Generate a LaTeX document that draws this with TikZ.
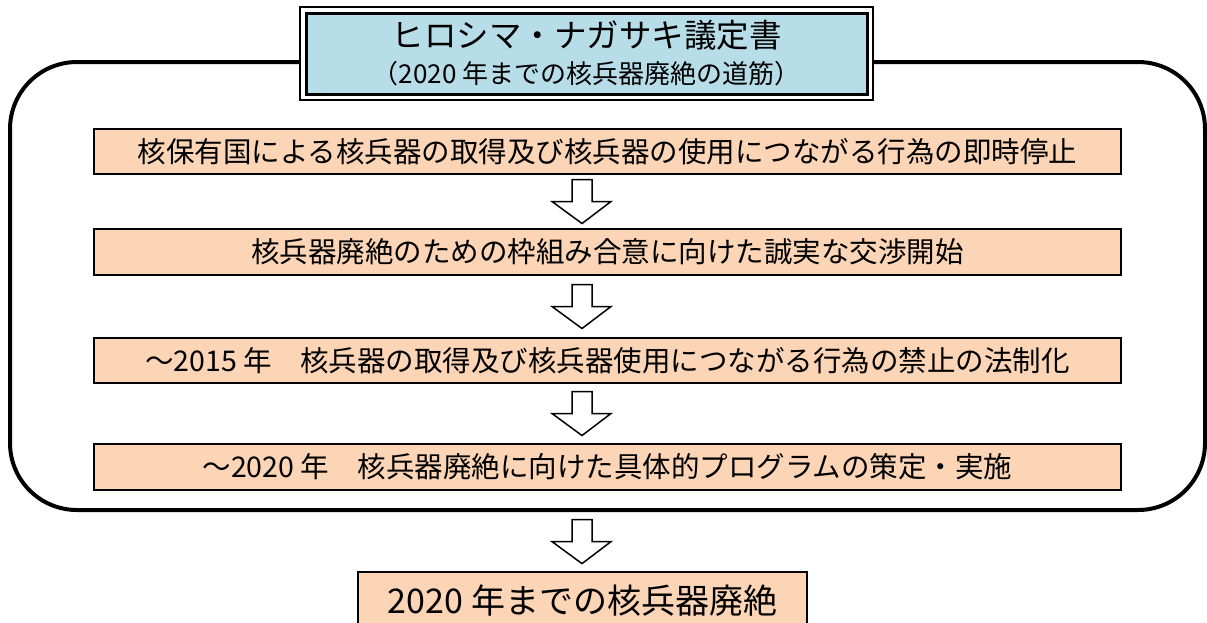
\documentclass[tikz,border=0pt]{standalone}
\usepackage{fontspec}
\setmainfont{Noto Sans CJK JP}
\usetikzlibrary{calc, positioning}

\definecolor{stepfill}{HTML}{FBD5B5}
\definecolor{titlefill}{HTML}{B7DDE8}

% hollow block arrow, centred in the gap between two nodes
\newcommand{\blockarrow}[2]{%
	\draw[hollow] let \p1=($(#1.south)!.5!(#2.north)$) in
		(572pt,\y1+22pt) -- (592pt,\y1+22pt) -- (592pt,\y1) -- (611pt,\y1)
		-- (582pt,\y1-22pt) -- (552pt,\y1) -- (572pt,\y1) -- cycle;}

\begin{document}
\begin{tikzpicture}[x=1pt, y=-1pt,
		stepbox/.style = {draw, line width=1.6pt, fill=stepfill, minimum width=1027pt, inner sep=0pt, font=\fontsize{28.5}{34}\selectfont},
		panel/.style = {draw, line width=4pt, rounded corners=67pt, minimum width=1195pt, minimum height=448pt},
		hollow/.style = {draw, line width=1.5pt, fill=white, line join=miter}]
		\useasboundingbox (0,0) rectangle (1207,622);
		\node[panel] (panel) at (607.5,286) {};
		\node[draw, line width=1.4pt, fill=white, minimum width=573pt, minimum height=93pt] (frame) at (586.5,53.5) {};
		\node[draw, line width=3pt, fill=titlefill, minimum width=561pt, minimum height=81pt, inner sep=0pt, align=center, font=\fontsize{32.5}{36}\selectfont] (title) at (frame) {ヒロシマ・ナガサキ議定書\\{\fontsize{26}{36}\selectfont （2020 年までの核兵器廃絶の道筋）}};
		\node[stepbox, minimum height=45pt] (b1) at (607.5,151.5) {核保有国による核兵器の取得及び核兵器の使用につながる行為の即時停止};
		\node[stepbox, minimum height=46pt] (b2) at (607.5,252) {核兵器廃絶のための枠組み合意に向けた誠実な交渉開始};
		\node[stepbox, minimum height=45pt] (b3) at (607.5,360.5) {～2015 年　核兵器の取得及び核兵器使用につながる行為の禁止の法制化};
		\node[stepbox, minimum height=46pt] (b4) at (607.5,467) {～2020 年　核兵器廃絶に向けた具体的プログラムの策定・実施};
		\node[stepbox, minimum width=449pt, minimum height=58pt, font=\fontsize{34}{40}\selectfont] (goal) at (582.5,601) {2020 年までの核兵器廃絶};
		\blockarrow{b1}{b2}
		\blockarrow{b2}{b3}
		\blockarrow{b3}{b4}
		\blockarrow{panel}{goal}
	\end{tikzpicture}
\end{document}
